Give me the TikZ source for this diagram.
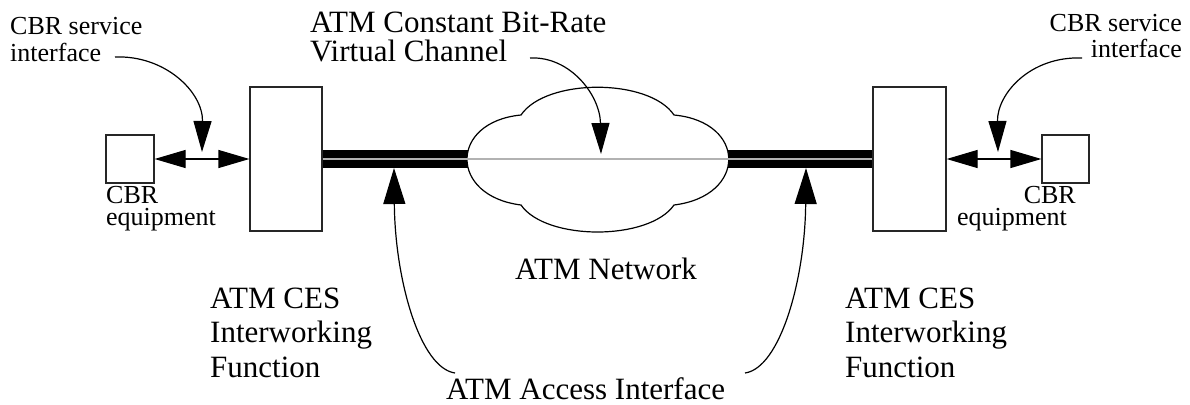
\documentclass[tikz,border=0pt]{standalone}
\usepackage{fontspec}
\setmainfont{Liberation Serif}
\usetikzlibrary{arrows.meta}

% stacked lines with a given baseline distance; the baseline is that of the first line
\newcommand\lstack[2]{\vtop{\lineskiplimit=-100pt\baselineskip=#1\halign{##\hfil\cr#2\crcr}}}
\newcommand\rstack[2]{\vtop{\lineskiplimit=-100pt\baselineskip=#1\halign{\hfil##\cr#2\crcr}}}

\begin{document}
\begin{tikzpicture}[x=1pt, y=-1pt,
  box/.style={draw=black!85, line width=1.2pt, fill=white, inner sep=0pt},
  small/.style={font=\fontsize{26}{28}\selectfont, inner sep=0pt},
  big/.style={font=\fontsize{31}{34}\selectfont, inner sep=0pt},
  link/.style={line width=1.2pt, -{Triangle[length=31pt, width=18pt]}},
  both/.style={line width=1.2pt, {Triangle[length=31pt, width=18pt]}-{Triangle[length=31pt, width=18pt]}},
  pointer/.style={line width=1.2pt, -{Triangle[length=36pt, width=22pt]}},
  trunk/.style={line width=18pt, black},
  vcline/.style={line width=1.6pt, black!30},
  cloudline/.style={line width=1.2pt, fill=white},
]
\useasboundingbox (0,0) rectangle (1190,404);

% equipment and interworking boxes
\node[box, minimum width=48pt, minimum height=48pt] (eqL) at (130,159) {};
\node[box, minimum width=72pt, minimum height=144pt] (iwfL) at (286,159) {};
\node[box, minimum width=73pt, minimum height=144pt] (iwfR) at (909.5,159) {};
\node[box, minimum width=47pt, minimum height=48pt] (eqR) at (1065.5,159) {};

% access links, covered in the middle by the network cloud
\draw[trunk] (iwfL.east) -- (iwfR.west);

% the ATM network cloud
\coordinate (cloudW) at (467,159);
\coordinate (cloudE) at (729,159);
\draw[cloudline] (521,115) .. controls (546,78) and (649,78) .. (674,115)
  .. controls (747,122) and (747,196) .. (674,205)
  .. controls (649,241) and (546,241) .. (521,205)
  .. controls (449,196) and (449,122) .. cycle;

% constant bit-rate virtual channel through the network
\draw[vcline] (iwfL.east) -- (iwfR.west);

% CBR service interfaces
\draw[both] (eqL.east) -- (iwfL.west);
\draw[both] (iwfR.east) -- (eqR.west);

% labels
\node[small, anchor=base west] (svcL) at (10,35) {\lstack{26pt}{CBR service\cr interface}};
\node[small, anchor=base east] (svcR) at (1182,32) {\rstack{25pt}{CBR service\cr interface}};
\node[small, anchor=base west] (eqLlabel) at (106,203) {\lstack{22pt}{CBR\cr equipment}};
\node[small, anchor=base east] (eqRlabel) at (1076,203) {\rstack{22pt}{CBR\cr equipment\hspace*{9pt}}};

\node[big, anchor=base west] (vc) at (310,33) {\lstack{29pt}{ATM Constant Bit-Rate\cr Virtual Channel}};
\node[big, anchor=base west] (net) at (515,279) {ATM Network};
\node[big, anchor=base west] (iwfLlabel) at (210,308) {\lstack{34.5pt}{ATM CES\cr Interworking\cr Function}};
\node[big, anchor=base west] (iwfRlabel) at (845,308) {\lstack{34.5pt}{ATM CES\cr Interworking\cr Function}};
\node[big, anchor=base west] (acc) at (446,399) {ATM Access Interface};

% pointers from the labels
\coordinate (svcLfrom) at (115,57);
\coordinate (svcLtip) at (202,152);
\coordinate (svcRfrom) at (1082,58);
\coordinate (svcRtip) at (998,152);
\coordinate (vcFrom) at (530,58);
\coordinate (vcTip) at (601,154);
\coordinate (accLfrom) at (455,373);
\coordinate (accLtip) at (394,168);
\coordinate (accRfrom) at (745,373);
\coordinate (accRtip) at (806,168);

\draw[link] (svcLfrom) .. controls (165,55) and (203,92) .. (svcLtip);
\draw[link] (svcRfrom) .. controls (1030,56) and (997,94) .. (svcRtip);
\draw[link] (vcFrom) .. controls (570,56) and (600,95) .. (vcTip);
\draw[pointer] (accLfrom) .. controls (420,368) and (395,280) .. (accLtip);
\draw[pointer] (accRfrom) .. controls (780,368) and (805,280) .. (accRtip);
\end{tikzpicture}
\end{document}
